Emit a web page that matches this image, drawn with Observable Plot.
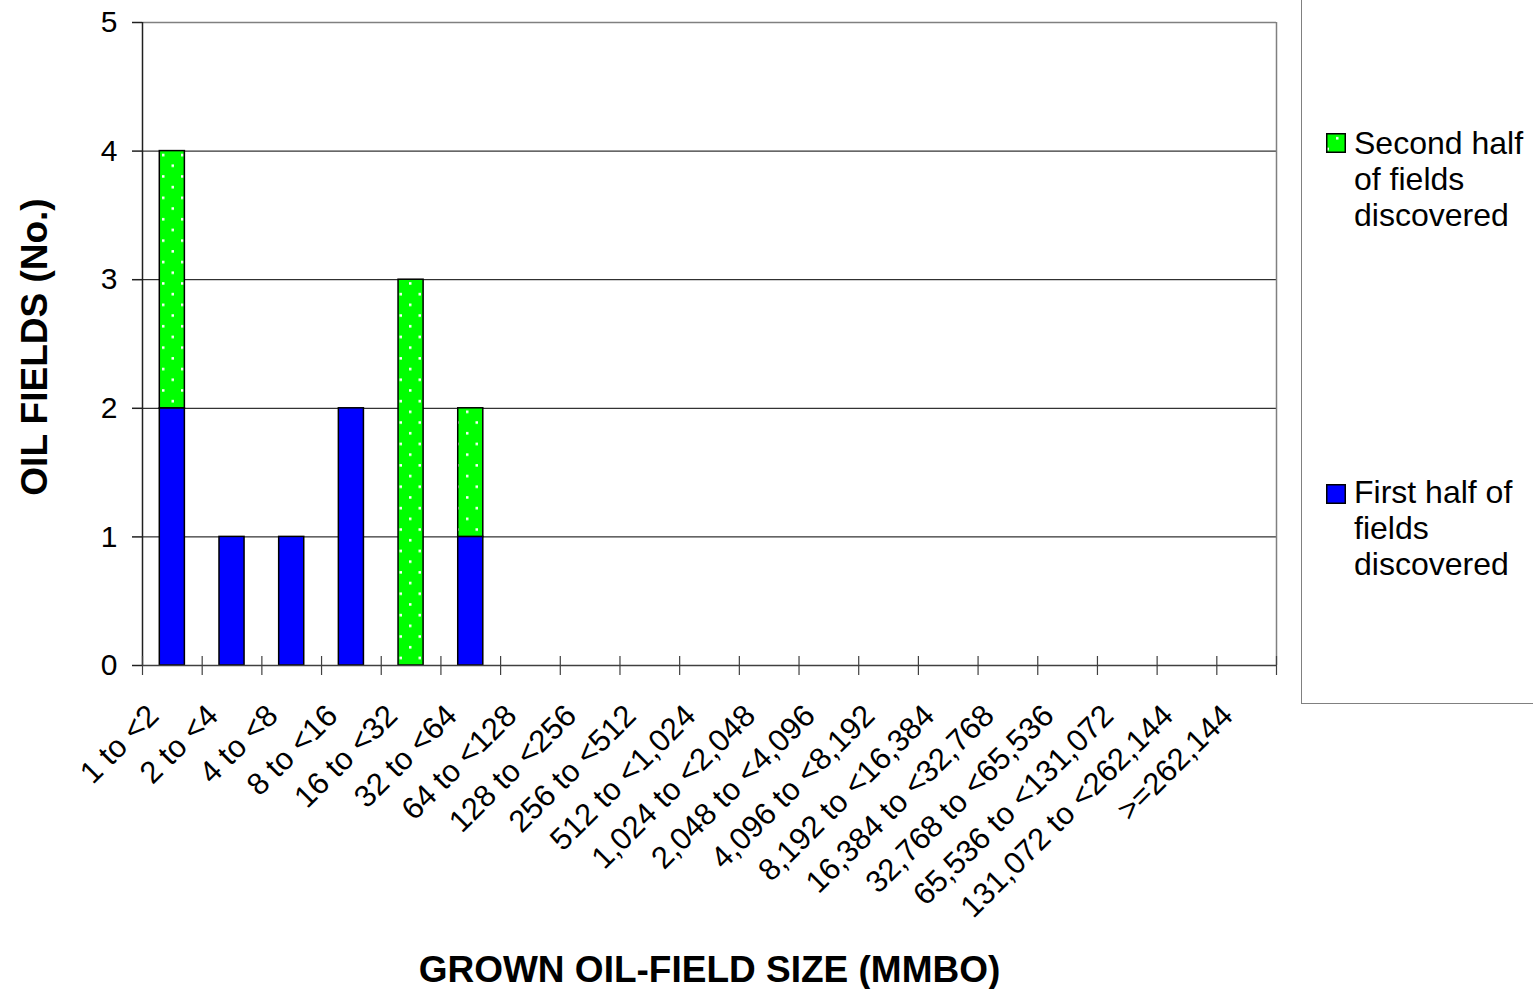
<!DOCTYPE html>
<html>
<head>
<meta charset="utf-8">
<script src="https://cdn.jsdelivr.net/npm/d3@7"></script>
<script src="https://cdn.jsdelivr.net/npm/@observablehq/plot@0.6"></script>
<style>
  html, body { margin: 0; padding: 0; background: #fff; }
  #wrap { position: relative; width: 1533px; height: 989px; overflow: hidden; font-family: "Liberation Sans", Arial, sans-serif; }
  #legend { position: absolute; left: 1301px; top: -2px; width: 300px; height: 706px; border: 1.5px solid #808080; box-sizing: border-box; }
  .sw { position: absolute; left: 1326px; width: 20px; height: 20px; }
  .lt { position: absolute; left: 1354px; font-size: 32px; line-height: 36px; color: #000; white-space: nowrap; }
</style>
</head>
<body>
<div id="wrap">
  <div id="chart"></div>
  <div id="legend"></div>
  <svg class="sw" style="top:133px" width="20" height="20"><rect x="0.75" y="0.75" width="18.5" height="18.5" fill="url(#dots)" stroke="#000" stroke-width="1.5"/></svg>
  <div class="lt" id="lt2" style="top:125px"></div>
  <svg class="sw" style="top:484px" width="20" height="20"><rect x="0.75" y="0.75" width="18.5" height="18.5" fill="#0000FF" stroke="#000" stroke-width="1.5"/></svg>
  <div class="lt" id="lt1" style="top:474px"></div>
</div>
<script>
const categories = ["1 to <2","2 to <4","4 to <8","8 to <16","16 to <32","32 to <64","64 to <128","128 to <256","256 to <512","512 to <1,024","1,024 to <2,048","2,048 to <4,096","4,096 to <8,192","8,192 to <16,384","16,384 to <32,768","32,768 to <65,536","65,536 to <131,072","131,072 to <262,144",">=262,144"];
const firstHalf  = [2,1,1,2,0,1,0,0,0,0,0,0,0,0,0,0,0,0,0];
const secondHalf = [2,0,0,0,3,1,0,0,0,0,0,0,0,0,0,0,0,0,0];
const seriesNames = ["First half of fields discovered", "Second half of fields discovered"];
const legendLines = [["First half of","fields","discovered"],["Second half","of fields","discovered"]];
const yTicks = [0,1,2,3,4,5];
const gridTicks = [1,2,3,4];
const xTitle = "GROWN OIL-FIELD SIZE (MMBO)";
const yTitle = "OIL FIELDS (No.)";
const colors = ["#0000FF", "url(#dots)"];

const rows = [];
categories.forEach((c, i) => { if (firstHalf[i] > 0) rows.push({cat: c, series: seriesNames[0], value: firstHalf[i], color: colors[0]}); });
categories.forEach((c, i) => { if (secondHalf[i] > 0) rows.push({cat: c, series: seriesNames[1], value: secondHalf[i], color: colors[1]}); });

const W = 1533, H = 989, ML = 142, MR = 257, MT = 22, MB = 324;
const step = (W - ML - MR) / categories.length;
const font = "Liberation Sans, Arial, sans-serif";

const chart = Plot.plot({
  width: W, height: H,
  marginLeft: ML, marginRight: MR, marginTop: MT, marginBottom: MB,
  style: {fontFamily: font, fontSize: "30px", background: "#fff", color: "#000"},
  x: {domain: categories, paddingInner: 0.58, paddingOuter: 0.29, round: false, axis: null},
  y: {domain: [0, 5], axis: null},
  color: {type: "identity"},
  marks: [
    Plot.ruleY(gridTicks, {stroke: "#000", strokeWidth: 1}),
    Plot.ruleY([5], {stroke: "#808080", strokeWidth: 1.5}),
    Plot.ruleX([categories[categories.length - 1]], {dx: step / 2, y1: 0, y2: 5, stroke: "#808080", strokeWidth: 1.5}),
    Plot.barY(rows, {x: "cat", y: "value", z: "series", fill: "color", stroke: "#000", strokeWidth: 1.5}),
    Plot.ruleY([0], {stroke: "#404040", strokeWidth: 1.5}),
    Plot.ruleX([categories[0]], {dx: -step / 2, y1: 0, y2: 5, stroke: "#202020", strokeWidth: 1.5}),
    Plot.ruleX(categories, {x: d => d, dx: -step / 2, y1: 0, y2: 0, insetTop: -9, insetBottom: -10, stroke: "#404040", strokeWidth: 1.2}),
    Plot.ruleX([categories[categories.length - 1]], {dx: step / 2, y1: 0, y2: 0, insetTop: -9, insetBottom: -10, stroke: "#404040", strokeWidth: 1.2}),
    Plot.axisY({ticks: yTicks, label: null, tickSize: 10, tickPadding: 15, tickFormat: d => String(d), fontSize: 30, stroke: "#202020", strokeWidth: 1.5}),
    Plot.text(categories, {x: d => d, text: d => d, frameAnchor: "bottom", rotate: -45, textAnchor: "end", lineAnchor: "bottom", dx: -12, dy: 52, fontSize: 31}),
    Plot.text([xTitle], {text: d => d, frameAnchor: "bottom", textAnchor: "middle", lineAnchor: "middle", dy: 305, fontSize: 37, fontWeight: "bold"}),
    Plot.text([yTitle], {text: d => d, frameAnchor: "left", textAnchor: "middle", lineAnchor: "middle", rotate: -90, dx: -107, dy: 3, fontSize: 37, fontWeight: "bold"})
  ]
});

const defs = d3.select(chart).insert("defs", ":first-child");
const pat = defs.append("pattern").attr("id", "dots").attr("patternUnits", "userSpaceOnUse").attr("width", 19).attr("height", 21.4);
pat.append("rect").attr("width", 19).attr("height", 21.4).attr("fill", "#00FF00");
pat.append("rect").attr("x", 10).attr("y", 4).attr("width", 2.5).attr("height", 2.5).attr("fill", "#ffffff");
pat.append("rect").attr("x", 0.5).attr("y", 14.7).attr("width", 2.5).attr("height", 2.5).attr("fill", "#ffffff");

document.getElementById("chart").appendChild(chart);
document.getElementById("lt1").innerHTML = legendLines[0].join("<br>");
document.getElementById("lt2").innerHTML = legendLines[1].join("<br>");
</script>
</body>
</html>
